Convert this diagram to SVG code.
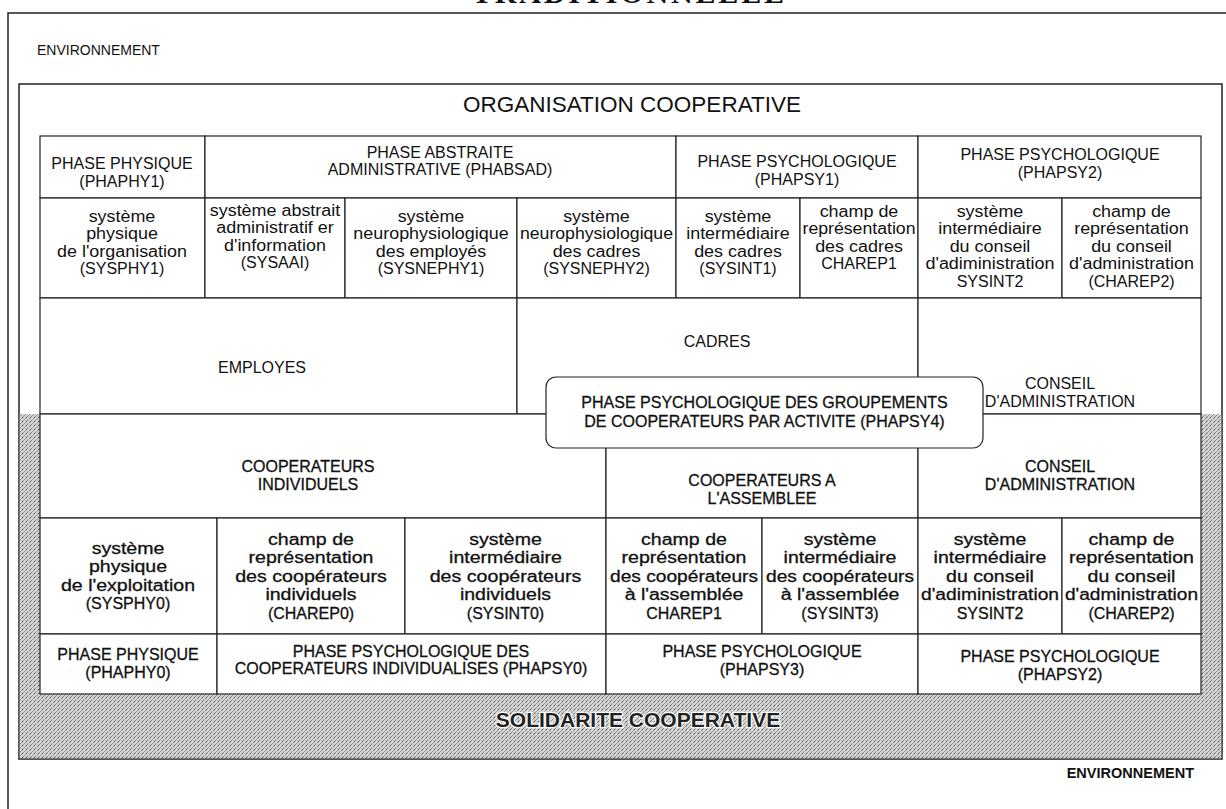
<svg xmlns="http://www.w3.org/2000/svg" width="1226" height="809" viewBox="0 0 1226 809">
<defs>
<pattern id="stip" width="4" height="4" patternUnits="userSpaceOnUse">
<rect width="4" height="4" fill="#d2d2d2"/>
<path d="M0 4 L4 0" stroke="#7a7a7a" stroke-width="0.8"/>
<rect x="2" y="1" width="1" height="1" fill="#444"/>
<rect x="0" y="2" width="1" height="1" fill="#eee"/>
</pattern>
<style>
text{font-family:"Liberation Sans",Arial,sans-serif;fill:#111;}
.t{font-size:16px;text-anchor:middle;}
.tb{font-size:16px;text-anchor:middle;stroke:#111;stroke-width:0.3;}
.c{fill:#fff;stroke:#222;stroke-width:1.2;}
.frame{fill:none;stroke:#222;stroke-width:1.5;}
</style>
</defs>
<rect width="1226" height="809" fill="#fff"/>
<text x="628" y="3" style="font-family:'Liberation Serif',serif;font-size:30px;font-weight:bold;text-anchor:middle" textLength="312">TRADITIONNELLE</text>
<g id="environnement">
<rect x="8" y="13" width="1240" height="820" class="frame"/>
<text x="37" y="55" style="font-size:14px">ENVIRONNEMENT</text>
<text x="1194" y="778" style="font-size:14.5px;font-weight:bold;text-anchor:end">ENVIRONNEMENT</text>
</g>
<g id="organisation">
<rect x="19" y="84" width="1203" height="675" class="frame"/>
<rect x="19.75" y="414" width="1201.5" height="344.25" fill="url(#stip)"/>
<text x="632" y="112" style="font-size:22.5px;text-anchor:middle">ORGANISATION COOPERATIVE</text>
<text x="638" y="727" style="font-size:21px;font-weight:bold;text-anchor:middle;fill:#222;stroke:#fff;stroke-width:2.5;paint-order:stroke">SOLIDARITE COOPERATIVE</text>
</g>
<g id="connectors"></g>
<g id="phaphy1"><rect x="40" y="136" width="165" height="62" class="c"/><text class="t" x="122" y="168.5">PHASE PHYSIQUE</text><text class="t" x="122" y="186.5">(PHAPHY1)</text></g>
<g id="phabsad"><rect x="205" y="136" width="471" height="62" class="c"/><text class="t" x="440" y="157.5">PHASE ABSTRAITE</text><text class="t" x="440" y="175">ADMINISTRATIVE (PHABSAD)</text></g>
<g id="phapsy1"><rect x="676" y="136" width="242" height="62" class="c"/><text class="t" x="797" y="167">PHASE PSYCHOLOGIQUE</text><text class="t" x="797" y="185">(PHAPSY1)</text></g>
<g id="phapsy2-haut"><rect x="918" y="136" width="283" height="62" class="c"/><text class="t" x="1060" y="159.5">PHASE PSYCHOLOGIQUE</text><text class="t" x="1060" y="177.5">(PHAPSY2)</text></g>
<g id="sysphy1"><rect x="40" y="198" width="165" height="100" class="c"/><text class="t" x="122" y="221.5" textLength="66.7" lengthAdjust="spacingAndGlyphs">système</text><text class="t" x="122" y="239" textLength="71.7" lengthAdjust="spacingAndGlyphs">physique</text><text class="t" x="122" y="256.5" textLength="130" lengthAdjust="spacingAndGlyphs">de l'organisation</text><text class="t" x="122" y="274">(SYSPHY1)</text></g>
<g id="sysaai"><rect x="205" y="198" width="140" height="100" class="c"/><text class="t" x="275" y="215.5" textLength="130.5" lengthAdjust="spacingAndGlyphs">système abstrait</text><text class="t" x="275" y="233" textLength="117.5" lengthAdjust="spacingAndGlyphs">administratif er</text><text class="t" x="275" y="250.5" textLength="102" lengthAdjust="spacingAndGlyphs">d'information</text><text class="t" x="275" y="268">(SYSAAI)</text></g>
<g id="sysnephy1"><rect x="345" y="198" width="172" height="100" class="c"/><text class="t" x="431" y="221.5" textLength="66.7" lengthAdjust="spacingAndGlyphs">système</text><text class="t" x="431" y="239" textLength="155.3" lengthAdjust="spacingAndGlyphs">neurophysiologique</text><text class="t" x="431" y="256.5" textLength="110.5" lengthAdjust="spacingAndGlyphs">des employés</text><text class="t" x="431" y="274">(SYSNEPHY1)</text></g>
<g id="sysnephy2"><rect x="517" y="198" width="159" height="100" class="c"/><text class="t" x="596.5" y="221.5" textLength="66.7" lengthAdjust="spacingAndGlyphs">système</text><text class="t" x="596.5" y="239" textLength="153" lengthAdjust="spacingAndGlyphs">neurophysiologique</text><text class="t" x="596.5" y="256.5" textLength="87.7" lengthAdjust="spacingAndGlyphs">des cadres</text><text class="t" x="596.5" y="274">(SYSNEPHY2)</text></g>
<g id="sysint1"><rect x="676" y="198" width="124" height="100" class="c"/><text class="t" x="738" y="221.5" textLength="66.7" lengthAdjust="spacingAndGlyphs">système</text><text class="t" x="738" y="239" textLength="103.6" lengthAdjust="spacingAndGlyphs">intermédiaire</text><text class="t" x="738" y="256.5" textLength="87.7" lengthAdjust="spacingAndGlyphs">des cadres</text><text class="t" x="738" y="274">(SYSINT1)</text></g>
<g id="charep1-haut"><rect x="800" y="198" width="118" height="100" class="c"/><text class="t" x="859" y="216.5" textLength="78.7" lengthAdjust="spacingAndGlyphs">champ de</text><text class="t" x="859" y="234" textLength="113" lengthAdjust="spacingAndGlyphs">représentation</text><text class="t" x="859" y="251.5" textLength="87.7" lengthAdjust="spacingAndGlyphs">des cadres</text><text class="t" x="859" y="269">CHAREP1</text></g>
<g id="sysint2-haut"><rect x="918" y="198" width="144" height="100" class="c"/><text class="t" x="990" y="216.5" textLength="66.7" lengthAdjust="spacingAndGlyphs">système</text><text class="t" x="990" y="234" textLength="103.6" lengthAdjust="spacingAndGlyphs">intermédiaire</text><text class="t" x="990" y="251.5" textLength="80.7" lengthAdjust="spacingAndGlyphs">du conseil</text><text class="t" x="990" y="269" textLength="129" lengthAdjust="spacingAndGlyphs">d'adiministration</text><text class="t" x="990" y="286.5">SYSINT2</text></g>
<g id="charep2-haut"><rect x="1062" y="198" width="139" height="100" class="c"/><text class="t" x="1131.5" y="216.5" textLength="78.7" lengthAdjust="spacingAndGlyphs">champ de</text><text class="t" x="1131.5" y="234" textLength="114.6" lengthAdjust="spacingAndGlyphs">représentation</text><text class="t" x="1131.5" y="251.5" textLength="80.7" lengthAdjust="spacingAndGlyphs">du conseil</text><text class="t" x="1131.5" y="269" textLength="124.9" lengthAdjust="spacingAndGlyphs">d'administration</text><text class="t" x="1131.5" y="286.5">(CHAREP2)</text></g>
<g id="employes"><rect x="40" y="298" width="477" height="116" class="c"/><text class="t" x="262" y="372.5">EMPLOYES</text></g>
<g id="cadres"><rect x="517" y="298" width="401" height="116" class="c"/><text class="t" x="717" y="346.5">CADRES</text></g>
<g id="conseil-haut"><rect x="918" y="298" width="283" height="116" class="c"/><text class="t" x="1060" y="388.5">CONSEIL</text><text class="t" x="1060" y="406.5">D'ADMINISTRATION</text></g>
<g id="cooperateurs-individuels"><rect x="40" y="414" width="566" height="104" class="c"/><text class="tb" x="308" y="471.5">COOPERATEURS</text><text class="tb" x="308" y="489.5">INDIVIDUELS</text></g>
<g id="cooperateurs-assemblee"><rect x="606" y="414" width="312" height="104" class="c"/><text class="tb" x="762" y="485.5">COOPERATEURS A</text><text class="tb" x="762" y="503.5">L'ASSEMBLEE</text></g>
<g id="conseil-bas"><rect x="918" y="414" width="283" height="104" class="c"/><text class="tb" x="1060" y="471.5">CONSEIL</text><text class="tb" x="1060" y="490">D'ADMINISTRATION</text></g>
<g id="phapsy4"><rect x="546" y="377" width="437" height="71" rx="10" ry="10" class="c"/><text class="tb" x="764.5" y="407.5">PHASE PSYCHOLOGIQUE DES GROUPEMENTS</text><text class="tb" x="764.5" y="426.5">DE COOPERATEURS PAR ACTIVITE (PHAPSY4)</text></g>
<g id="sysphy0"><rect x="40" y="518" width="177" height="116" class="c"/><text class="tb" x="128" y="553.75" textLength="72.7" lengthAdjust="spacingAndGlyphs">système</text><text class="tb" x="128" y="572.25" textLength="78.1" lengthAdjust="spacingAndGlyphs">physique</text><text class="tb" x="128" y="590.75" textLength="134" lengthAdjust="spacingAndGlyphs">de l'exploitation</text><text class="tb" x="128" y="609.25">(SYSPHY0)</text></g>
<g id="charep0"><rect x="217" y="518" width="188" height="116" class="c"/><text class="tb" x="311" y="544.5" textLength="85.8" lengthAdjust="spacingAndGlyphs">champ de</text><text class="tb" x="311" y="563" textLength="124.8" lengthAdjust="spacingAndGlyphs">représentation</text><text class="tb" x="311" y="581.5" textLength="151.6" lengthAdjust="spacingAndGlyphs">des coopérateurs</text><text class="tb" x="311" y="600" textLength="91.1" lengthAdjust="spacingAndGlyphs">individuels</text><text class="tb" x="311" y="618.5">(CHAREP0)</text></g>
<g id="sysint0"><rect x="405" y="518" width="201" height="116" class="c"/><text class="tb" x="505.5" y="544.5" textLength="72.7" lengthAdjust="spacingAndGlyphs">système</text><text class="tb" x="505.5" y="563" textLength="112.9" lengthAdjust="spacingAndGlyphs">intermédiaire</text><text class="tb" x="505.5" y="581.5" textLength="151.6" lengthAdjust="spacingAndGlyphs">des coopérateurs</text><text class="tb" x="505.5" y="600" textLength="91.1" lengthAdjust="spacingAndGlyphs">individuels</text><text class="tb" x="505.5" y="618.5">(SYSINT0)</text></g>
<g id="charep1-bas"><rect x="606" y="518" width="156" height="116" class="c"/><text class="tb" x="684" y="544.5" textLength="85.8" lengthAdjust="spacingAndGlyphs">champ de</text><text class="tb" x="684" y="563" textLength="124.8" lengthAdjust="spacingAndGlyphs">représentation</text><text class="tb" x="684" y="581.5" textLength="148" lengthAdjust="spacingAndGlyphs">des coopérateurs</text><text class="tb" x="684" y="600" textLength="118.7" lengthAdjust="spacingAndGlyphs">à l'assemblée</text><text class="tb" x="684" y="618.5">CHAREP1</text></g>
<g id="sysint3"><rect x="762" y="518" width="156" height="116" class="c"/><text class="tb" x="840" y="544.5" textLength="72.7" lengthAdjust="spacingAndGlyphs">système</text><text class="tb" x="840" y="563" textLength="112.9" lengthAdjust="spacingAndGlyphs">intermédiaire</text><text class="tb" x="840" y="581.5" textLength="148" lengthAdjust="spacingAndGlyphs">des coopérateurs</text><text class="tb" x="840" y="600" textLength="118.7" lengthAdjust="spacingAndGlyphs">à l'assemblée</text><text class="tb" x="840" y="618.5">(SYSINT3)</text></g>
<g id="sysint2-bas"><rect x="918" y="518" width="144" height="116" class="c"/><text class="tb" x="990" y="544.5" textLength="72.7" lengthAdjust="spacingAndGlyphs">système</text><text class="tb" x="990" y="563" textLength="112.9" lengthAdjust="spacingAndGlyphs">intermédiaire</text><text class="tb" x="990" y="581.5" textLength="87.8" lengthAdjust="spacingAndGlyphs">du conseil</text><text class="tb" x="990" y="600" textLength="138" lengthAdjust="spacingAndGlyphs">d'adiministration</text><text class="tb" x="990" y="618.5">SYSINT2</text></g>
<g id="charep2-bas"><rect x="1062" y="518" width="139" height="116" class="c"/><text class="tb" x="1131.5" y="544.5" textLength="85.8" lengthAdjust="spacingAndGlyphs">champ de</text><text class="tb" x="1131.5" y="563" textLength="124.8" lengthAdjust="spacingAndGlyphs">représentation</text><text class="tb" x="1131.5" y="581.5" textLength="87.8" lengthAdjust="spacingAndGlyphs">du conseil</text><text class="tb" x="1131.5" y="600" textLength="133" lengthAdjust="spacingAndGlyphs">d'administration</text><text class="tb" x="1131.5" y="618.5">(CHAREP2)</text></g>
<g id="phaphy0"><rect x="40" y="634" width="177" height="60" class="c"/><text class="tb" x="128" y="659.5">PHASE PHYSIQUE</text><text class="tb" x="128" y="677.5">(PHAPHY0)</text></g>
<g id="phapsy0"><rect x="217" y="634" width="389" height="60" class="c"/><text class="tb" x="411" y="656.5">PHASE PSYCHOLOGIQUE DES</text><text class="tb" x="411" y="674">COOPERATEURS INDIVIDUALISES (PHAPSY0)</text></g>
<g id="phapsy3"><rect x="606" y="634" width="312" height="60" class="c"/><text class="tb" x="762" y="656.5">PHASE PSYCHOLOGIQUE</text><text class="tb" x="762" y="674.5">(PHAPSY3)</text></g>
<g id="phapsy2-bas"><rect x="918" y="634" width="283" height="60" class="c"/><text class="tb" x="1060" y="661.5">PHASE PSYCHOLOGIQUE</text><text class="tb" x="1060" y="679.5">(PHAPSY2)</text></g>
</svg>
